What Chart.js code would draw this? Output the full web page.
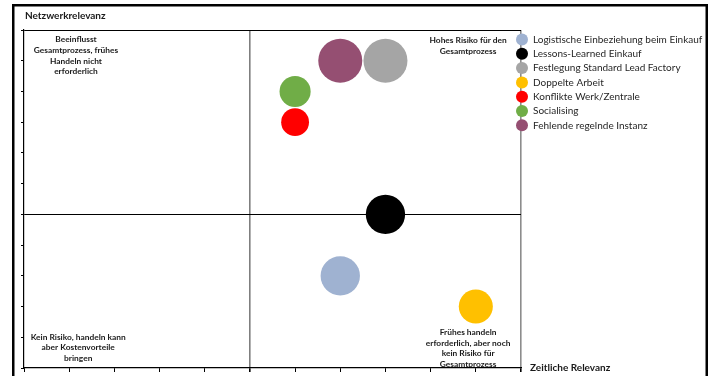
<!DOCTYPE html>
<html lang="de">
<head>
<meta charset="utf-8">
<title>Risikomatrix</title>
<script src="https://cdn.jsdelivr.net/npm/chart.js@4.4.1/dist/chart.umd.min.js"></script>
<style>
    html, body { margin: 0; padding: 0; background: #ffffff; }
    #wrap { width: 713px; height: 376px; position: relative; }
</style>
</head>
<body>
<div id="wrap"><canvas id="matrixChart" width="713" height="376"></canvas></div>
<script>
// Daten der Matrix
const kategorien = [
    'Logistische Einbeziehung beim Einkauf',
    'Lessons-Learned Einkauf',
    'Festlegung Standard Lead Factory',
    'Doppelte Arbeit',
    'Konflikte Werk/Zentrale',
    'Socialising',
    'Fehlende regelnde Instanz'
];
const zeitlicheRelevanz = [7, 8, 8, 10, 6, 6, 7];
const netzwerkRelevanz = [3, 5, 10, 2, 8, 9, 10];
const blasenGroesse = [4, 4, 5, 3, 2, 2.5, 5];
const farben = ['#9fb2d1', '#000000', '#a5a5a5', '#ffc000', '#ff0000', '#70ad47', '#954f72'];

const achsenMin = 0;
const achsenMax = 11;
const mittelLinie = 5;

const quadrantTexte = {
    obenLinks: ['Beeinflusst', 'Gesamtprozess, frühes', 'Handeln nicht', 'erforderlich'],
    obenRechts: ['Hohes Risiko für den', 'Gesamtprozess'],
    untenLinks: ['Kein Risiko, handeln kann', 'aber Kostenvorteile', 'bringen'],
    untenRechts: ['Frühes handeln', 'erforderlich, aber noch', 'kein Risiko für', 'Gesamtprozess']
};

const SCHRIFT = 'Lato, "Liberation Sans", sans-serif';
const MAX_RADIUS = 22;

document.addEventListener('DOMContentLoaded', function() {
    initMatrixChart();
});

/**
 * Radius aus Blasengroesse (Flaeche proportional)
 */
function radiusAus(groesse) {
    const maxGroesse = Math.max(...blasenGroesse);
    return MAX_RADIUS * Math.sqrt(groesse / maxGroesse);
}

/**
 * Beschriftungen der Quadranten (unter den Achsenlinien)
 */
const quadrantPlugin = {
    id: 'quadranten',
    beforeDraw(chart) {
        const ctx = chart.ctx;
        const x = chart.scales.x;
        const y = chart.scales.y;
        ctx.save();
        ctx.font = 'bold 8.4px ' + SCHRIFT;
        ctx.fillStyle = '#1a1a1a';
        ctx.textAlign = 'center';
        ctx.textBaseline = 'middle';
        const zeilen = (liste, cx, y0) => {
            liste.forEach((t, i) => ctx.fillText(t, cx, y0 + i * 10.8));
        };
        zeilen(quadrantTexte.obenLinks, x.getPixelForValue(1.15), y.getPixelForValue(10.7));
        zeilen(quadrantTexte.obenRechts, x.getPixelForValue(9.83), y.getPixelForValue(10.65));
        zeilen(quadrantTexte.untenLinks, x.getPixelForValue(1.2), y.getPixelForValue(1.01));
        zeilen(quadrantTexte.untenRechts, x.getPixelForValue(9.83), y.getPixelForValue(1.17));
        ctx.restore();
    },
    afterDraw(chart) {
        const ctx = chart.ctx;
        const x = chart.scales.x;
        const y = chart.scales.y;
        ctx.save();
        // Achsentitel
        ctx.font = 'bold 10px ' + SCHRIFT;
        ctx.fillStyle = '#1a1a1a';
        ctx.textBaseline = 'middle';
        ctx.textAlign = 'left';
        ctx.fillText('Netzwerkrelevanz', x.left + 1, 16);
        ctx.fillText('Zeitliche Relevanz', x.right + 9, y.bottom);

        // Legende
        ctx.font = '10px ' + SCHRIFT;
        chart.data.datasets.forEach((ds, i) => {
            const ly = y.top + 9.5 + i * 14.3;
            ctx.beginPath();
            ctx.arc(x.right + 1, ly, 6, 0, Math.PI * 2);
            ctx.fillStyle = ds.backgroundColor;
            ctx.fill();
            ctx.fillStyle = '#262626';
            ctx.fillText(ds.label, x.right + 12, ly);
        });

        // Rahmen
        ctx.strokeStyle = '#000000';
        ctx.lineWidth = 2.5;
        ctx.strokeRect(13.25, 5.25, 693.5, 380);
        ctx.restore();
    }
};

/**
 * Blasendiagramm
 */
function initMatrixChart() {
    const canvas = document.getElementById('matrixChart');
    if (!canvas) return;
    const ctx = canvas.getContext('2d');

    const datasets = kategorien.map((name, i) => ({
        label: name,
        data: [{ x: zeitlicheRelevanz[i], y: netzwerkRelevanz[i], r: radiusAus(blasenGroesse[i]) }],
        backgroundColor: farben[i],
        borderWidth: 0,
        hoverBorderWidth: 0
    }));

    const gitterFarbe = (ctx2, achse) => {
        const v = ctx2.tick ? ctx2.tick.value : null;
        if (v === mittelLinie) return achse === 'x' ? '#7f7f7f' : '#000000';
        if (v === achsenMax) return achse === 'x' ? '#8c8c8c' : '#000000';
        return 'rgba(0,0,0,0)';
    };
    const gitterBreite = (ctx2, achse) => {
        const v = ctx2.tick ? ctx2.tick.value : null;
        if (achse === 'x' && (v === mittelLinie || v === achsenMax)) return 1.6;
        return 1;
    };

    new Chart(ctx, {
        type: 'bubble',
        data: { datasets: datasets },
        options: {
            responsive: false,
            animation: false,
            events: [],
            layout: {
                autoPadding: false,
                padding: { left: 24, top: 30, right: 192, bottom: 8 }
            },
            plugins: {
                legend: { display: false },
                tooltip: { enabled: false }
            },
            scales: {
                x: {
                    type: 'linear',
                    min: achsenMin,
                    max: achsenMax,
                    afterFit: s => { s.height = 0; },
                    ticks: { display: false, stepSize: 1 },
                    border: { display: true, color: '#000000', width: 1.2 },
                    grid: {
                        color: c => gitterFarbe(c, 'x'),
                        lineWidth: c => gitterBreite(c, 'x'),
                        tickColor: '#000000',
                        tickLength: 4,
                        drawTicks: true
                    }
                },
                y: {
                    type: 'linear',
                    min: achsenMin,
                    max: achsenMax,
                    afterFit: s => { s.width = 0; },
                    ticks: { display: false, stepSize: 1 },
                    border: { display: true, color: '#000000', width: 1.2 },
                    grid: {
                        color: c => gitterFarbe(c, 'y'),
                        lineWidth: c => gitterBreite(c, 'y'),
                        tickColor: '#000000',
                        tickLength: 3,
                        drawTicks: true
                    }
                }
            }
        },
        plugins: [quadrantPlugin]
    });
}
</script>
</body>
</html>
